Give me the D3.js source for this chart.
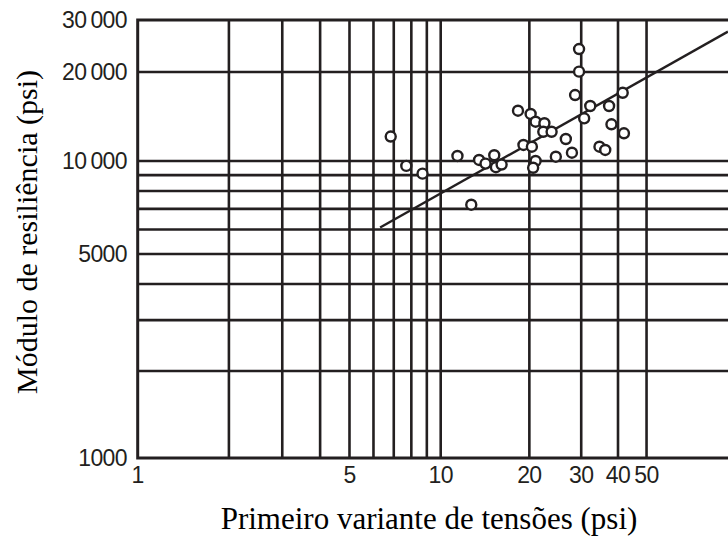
<!DOCTYPE html>
<html>
<head>
<meta charset="utf-8">
<script src="https://cdn.jsdelivr.net/npm/d3@7"></script>
<style>
  body { margin: 0; background: #fff; }
</style>
</head>
<body>
<div class="chart"></div>
<script>

// eixo x (primeiro invariante de tensões, psi)
var xTicks = [1, 5, 10, 20, 30, 40, 50];
var xGrid = [2, 3, 4, 5, 6, 7, 8, 9, 10, 20, 30, 40, 50];

// eixo y (módulo de resiliência, psi)
var yTicks = [1000, 5000, 10000, 20000, 30000];
var yTickLabels = ["1000", "5000", "10\u2009000", "20\u2009000", "30\u2009000"];
var yGrid = [2000, 3000, 4000, 5000, 6000, 7000, 8000, 9000, 10000, 20000];

// pontos medidos
var stress = [6.84, 7.70, 8.71, 11.4, 13.5, 14.2, 15.2, 15.4, 16.1, 12.7,
              18.3, 20.2, 21.0, 22.5, 22.3, 23.8, 19.1, 20.4, 21.0, 20.6,
              24.6, 26.6, 27.9, 29.5, 29.5, 28.6, 30.7, 32.2, 34.6, 36.2,
              37.3, 38.0, 41.5, 41.9];
var modulus = [12100, 9640, 9100, 10400, 10080, 9810, 10460, 9550, 9740, 7220,
               14800, 14430, 13580, 13420, 12560, 12560, 11330, 11180, 10000, 9510,
               10340, 11870, 10670, 23930, 20060, 16720, 13940, 15350, 11180, 10900,
               15350, 13310, 17020, 12410];

// reta de regressão
var fitX = [6.31, 94.5];
var fitY = [6090, 27400];

var ink = "#231f20";
var width = 728, height = 536;

var svg = d3.select(".chart").append("svg")
    .attr("width", width)
    .attr("height", height);

// papel log-log digitalizado: as décadas não têm exatamente o mesmo tamanho
var x = d3.scaleLog().domain([1, 10, 100]).range([137.7, 440.7, 735.2]);
var y = d3.scaleLog().domain([1000, 2000, 4000, 10000, 30000]).range([458, 371, 284, 161, 20]);

var xLeft = x(1), xRight = x(100), yTop = y(30000), yBottom = y(1000);

// grade
svg.append("g").selectAll("line").data(yGrid).enter().append("line")
    .attr("x1", xLeft).attr("x2", xRight)
    .attr("y1", function (d) { return y(d); })
    .attr("y2", function (d) { return y(d); })
    .attr("stroke", ink).attr("stroke-width", 2.6);

svg.append("g").selectAll("line").data(xGrid).enter().append("line")
    .attr("x1", function (d) { return x(d); })
    .attr("x2", function (d) { return x(d); })
    .attr("y1", yTop).attr("y2", yBottom)
    .attr("stroke", ink).attr("stroke-width", 2.6);

// moldura
svg.append("rect")
    .attr("x", xLeft).attr("y", yTop)
    .attr("width", xRight - xLeft).attr("height", yBottom - yTop)
    .attr("fill", "none").attr("stroke", ink).attr("stroke-width", 3);

// reta
var line = d3.line()
    .x(function (d) { return x(d[0]); })
    .y(function (d) { return y(d[1]); });

svg.append("path")
    .datum(d3.zip(fitX, fitY))
    .attr("d", line)
    .attr("fill", "none").attr("stroke", ink).attr("stroke-width", 2.4);

// pontos
svg.append("g").selectAll("circle").data(d3.zip(stress, modulus)).enter().append("circle")
    .attr("cx", function (d) { return x(d[0]); })
    .attr("cy", function (d) { return y(d[1]); })
    .attr("r", 5)
    .attr("fill", "#fff").attr("stroke", ink).attr("stroke-width", 2.4);

// rótulos dos eixos
svg.append("g").selectAll("text").data(yTicks).enter().append("text")
    .attr("x", 127)
    .attr("y", function (d) { return y(d); })
    .attr("dy", "0.36em")
    .attr("text-anchor", "end")
    .style("font-family", "'Liberation Sans', Arial, sans-serif")
    .style("font-size", "23px")
    .style("letter-spacing", "-0.6px")
    .attr("fill", ink)
    .text(function (d, i) { return yTickLabels[i]; });

svg.append("g").selectAll("text").data(xTicks).enter().append("text")
    .attr("x", function (d) { return x(d); })
    .attr("y", 475)
    .attr("dy", "0.36em")
    .attr("text-anchor", "middle")
    .style("font-family", "'Liberation Sans', Arial, sans-serif")
    .style("font-size", "23px")
    .style("letter-spacing", "-0.6px")
    .attr("fill", ink)
    .text(function (d) { return d; });

svg.append("text")
    .attr("x", 429).attr("y", 529)
    .attr("text-anchor", "middle")
    .style("font-family", "'Liberation Serif', 'Times New Roman', serif")
    .style("font-size", "31px")
    .attr("fill", "#000")
    .text("Primeiro variante de tensões (psi)");

svg.append("text")
    .attr("transform", "translate(37,232) rotate(-90)")
    .attr("text-anchor", "middle")
    .style("font-family", "'Liberation Serif', 'Times New Roman', serif")
    .style("font-size", "30px")
    .attr("fill", "#000")
    .text("Módulo de resiliência (psi)");

</script>
</body>
</html>
